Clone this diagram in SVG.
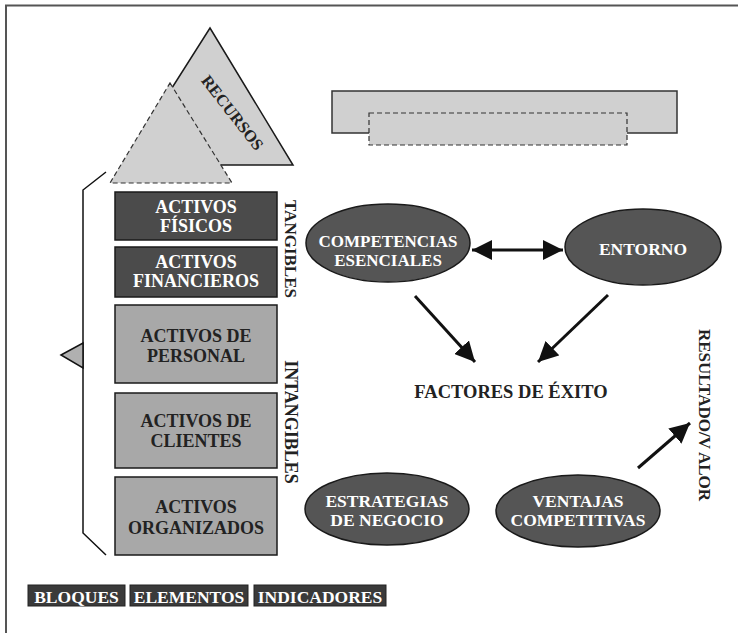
<svg xmlns="http://www.w3.org/2000/svg" width="738" height="633" viewBox="0 0 738 633">
<defs>
<style>
.t{font-family:"Liberation Serif","Times New Roman",serif;font-weight:bold;text-anchor:middle}
.w{fill:#ffffff}
.k{fill:#222222}
.dark{fill:#4b4b4b;stroke:#1a1a1a;stroke-width:1.5}
.light{fill:#a8a8a8;stroke:#1a1a1a;stroke-width:1.5}
.ell{fill:#555555;stroke:#1a1a1a;stroke-width:1.5}
.lab{fill:#3a3a3a;stroke:#222;stroke-width:1}
.arr{stroke:#111;stroke-width:3;fill:none}
</style>
<marker id="ah" viewBox="0 0 20 20" refX="20" refY="10" markerWidth="20" markerHeight="20" markerUnits="userSpaceOnUse" orient="auto">
<path d="M0,0 L20,10 L0,20 Z" fill="#111"/>
</marker>
<marker id="ahs" viewBox="0 0 20 20" refX="0" refY="10" markerWidth="20" markerHeight="20" markerUnits="userSpaceOnUse" orient="auto">
<path d="M20,0 L0,10 L20,20 Z" fill="#111"/>
</marker>
</defs>
<rect width="738" height="633" fill="#ffffff"/>
<path d="M6,633 V5.5 H738" fill="none" stroke="#555" stroke-width="2"/>

<g id="recursos">
<polygon points="210,28 293,165 123,165" fill="#d0d0d0" stroke="#1a1a1a" stroke-width="1.5"/>
<polygon points="170,83 232,183 110,183" fill="#d0d0d0" stroke="#333" stroke-width="1.2" stroke-dasharray="5,3"/>
<text class="t k" font-size="16.5" transform="translate(232,113) rotate(52)" dy="5">RECURSOS</text>
</g>

<g id="top-rect">
<rect x="332" y="91" width="345" height="42" fill="#d0d0d0" stroke="#333" stroke-width="1.5"/>
<rect x="369" y="113" width="258" height="32" fill="#d0d0d0" stroke="#333" stroke-width="1.2" stroke-dasharray="5,3"/>
</g>

<g id="bracket">
<path d="M106,172 L83,190 V533 L106,555" fill="none" stroke="#111" stroke-width="1.5"/>
<polygon points="61,355 83,343 83,368" fill="#b0b0b0" stroke="#111" stroke-width="1.5"/>
</g>

<g id="activos-fisicos">
<rect class="dark" x="115" y="192" width="162" height="48"/>
<text class="t w" font-size="18" x="196" y="213">ACTIVOS</text>
<text class="t w" font-size="18" x="196" y="232">FÍSICOS</text>
</g>
<g id="activos-financieros">
<rect class="dark" x="115" y="247" width="162" height="50"/>
<text class="t w" font-size="18" x="196" y="268">ACTIVOS</text>
<text class="t w" font-size="18" x="196" y="287">FINANCIEROS</text>
</g>
<g id="activos-personal">
<rect class="light" x="115" y="305" width="162" height="78"/>
<text class="t k" font-size="18" x="196" y="342">ACTIVOS DE</text>
<text class="t k" font-size="18" x="196" y="362">PERSONAL</text>
</g>
<g id="activos-clientes">
<rect class="light" x="115" y="393" width="162" height="75"/>
<text class="t k" font-size="18" x="196" y="427">ACTIVOS DE</text>
<text class="t k" font-size="18" x="196" y="447">CLIENTES</text>
</g>
<g id="activos-organizados">
<rect class="light" x="115" y="477" width="162" height="78"/>
<text class="t k" font-size="18" x="196" y="513">ACTIVOS</text>
<text class="t k" font-size="18" x="196" y="534">ORGANIZADOS</text>
</g>

<g id="tangibles">
<text class="t k" font-size="17" transform="translate(285,249) rotate(90)">TANGIBLES</text>
</g>
<g id="intangibles">
<text class="t k" font-size="18" transform="translate(285,422) rotate(90)">INTANGIBLES</text>
</g>

<g id="competencias">
<ellipse class="ell" cx="388" cy="243" rx="82" ry="39"/>
<text class="t w" font-size="17" x="388" y="247">COMPETENCIAS</text>
<text class="t w" font-size="17" x="388" y="266">ESENCIALES</text>
</g>
<g id="entorno">
<ellipse class="ell" cx="643" cy="247" rx="78" ry="38"/>
<text class="t w" font-size="17.5" x="643" y="255">ENTORNO</text>
</g>
<g id="factores">
<text class="t k" font-size="18.5" x="511" y="398">FACTORES DE ÉXITO</text>
</g>
<g id="estrategias">
<ellipse class="ell" cx="387" cy="509" rx="82" ry="36"/>
<text class="t w" font-size="17.5" x="387" y="507">ESTRATEGIAS</text>
<text class="t w" font-size="17.5" x="387" y="526">DE NEGOCIO</text>
</g>
<g id="ventajas">
<ellipse class="ell" cx="578" cy="511" rx="82" ry="36"/>
<text class="t w" font-size="17.5" x="578" y="507">VENTAJAS</text>
<text class="t w" font-size="17.5" x="578" y="526">COMPETITIVAS</text>
</g>
<g id="resultado">
<text class="t k" font-size="17" transform="translate(699,415) rotate(90)">RESULTADO/V ALOR</text>
</g>

<g id="labels">
<rect class="lab" x="28" y="585" width="97" height="21"/>
<text class="t w" font-size="17.5" x="76.5" y="603">BLOQUES</text>
<rect class="lab" x="130" y="585" width="118" height="21"/>
<text class="t w" font-size="17.5" x="189" y="603">ELEMENTOS</text>
<rect class="lab" x="254" y="585" width="132" height="21"/>
<text class="t w" font-size="17.5" x="320" y="603">INDICADORES</text>
</g>

<g id="connectors">
<line class="arr" x1="472" y1="250" x2="563" y2="250" marker-start="url(#ahs)" marker-end="url(#ah)"/>
<line class="arr" x1="415" y1="296" x2="475" y2="362" marker-end="url(#ah)"/>
<line class="arr" x1="608" y1="295" x2="538" y2="362" marker-end="url(#ah)"/>
<line class="arr" x1="638" y1="468" x2="690" y2="423" marker-end="url(#ah)"/>
</g>
</svg>
